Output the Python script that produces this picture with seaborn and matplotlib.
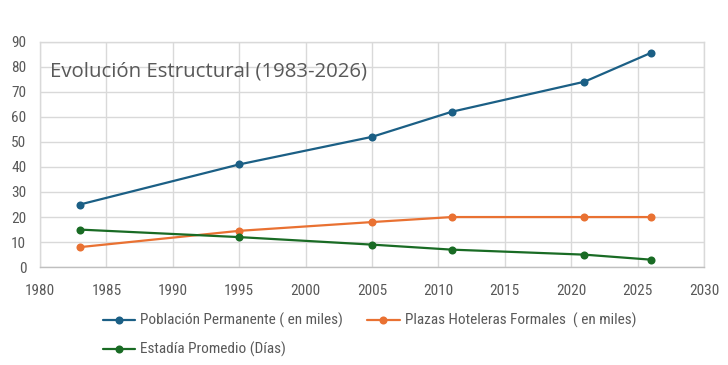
import matplotlib
matplotlib.use("Agg")
import matplotlib.pyplot as plt
import seaborn as sns
import pandas as pd

years = [1983, 1995, 2005, 2011, 2021, 2026]
poblacion = [25, 41, 52, 62, 74, 85.5]
plazas = [8, 14.5, 18, 20, 20, 20]
estadia = [15, 12, 9, 7, 5, 3]
series_names = ["Población Permanente ( en miles)",
                "Plazas Hoteleras Formales  ( en miles)",
                "Estadía Promedio (Días)"]
colors = ["#1b5f85", "#E97132", "#196B24"]
title = "Evolución Estructural (1983-2026)"

df = pd.concat([
    pd.DataFrame({"year": years, "value": v, "serie": n})
    for v, n in zip([poblacion, plazas, estadia], series_names)
])

sns.set_theme(style="white")
plt.rcParams['font.family'] = ['Roboto Condensed', 'PT Sans Narrow', 'DejaVu Sans']

fig = plt.figure(figsize=(7.28, 3.65), dpi=100)
ax = fig.add_axes([0.055, 0.268, 0.912, 0.618])
sns.lineplot(data=df, x="year", y="value", hue="serie", palette=colors,
             marker="o", markersize=5.8, markeredgewidth=0, linewidth=1.6,
             ax=ax, legend=True)

ax.set_xlim(1980, 2030)
ax.set_ylim(0, 90)
ax.set_xticks(range(1980, 2031, 5))
ax.set_yticks(range(0, 91, 10))
ax.grid(True, color="#d9d9d9", linewidth=1)
ax.set_axisbelow(True)
for s in ["top", "right", "left"]:
    ax.spines[s].set_color("#d9d9d9")
    ax.spines[s].set_linewidth(1)
ax.spines["bottom"].set_color("#bfbfbf")
ax.spines["bottom"].set_linewidth(1)
ax.tick_params(axis="x", colors="#595959", labelsize=11, length=0, pad=12)
ax.tick_params(axis="y", colors="#595959", labelsize=11, length=0, pad=10)
ax.set_xlabel("")
ax.set_ylabel("")

ax.text(1980.75, 78, title, fontsize=14.7, color="#595959",
        family=["Open Sans", "DejaVu Sans"], va="center")

handles, labels = ax.get_legend_handles_labels()
ax.get_legend().remove()
order = [0, 2, 1]
fig.legend([handles[i] for i in order], [labels[i] for i in order],
           loc="upper left", bbox_to_anchor=(103 / 728, 52 / 365), ncol=2,
           frameon=False, fontsize=11, labelcolor="#595959",
           handlelength=2.1, columnspacing=1.6, handletextpad=0.33,
           labelspacing=0.9, borderaxespad=0, borderpad=0)

fig.savefig("out.png", dpi=100)
